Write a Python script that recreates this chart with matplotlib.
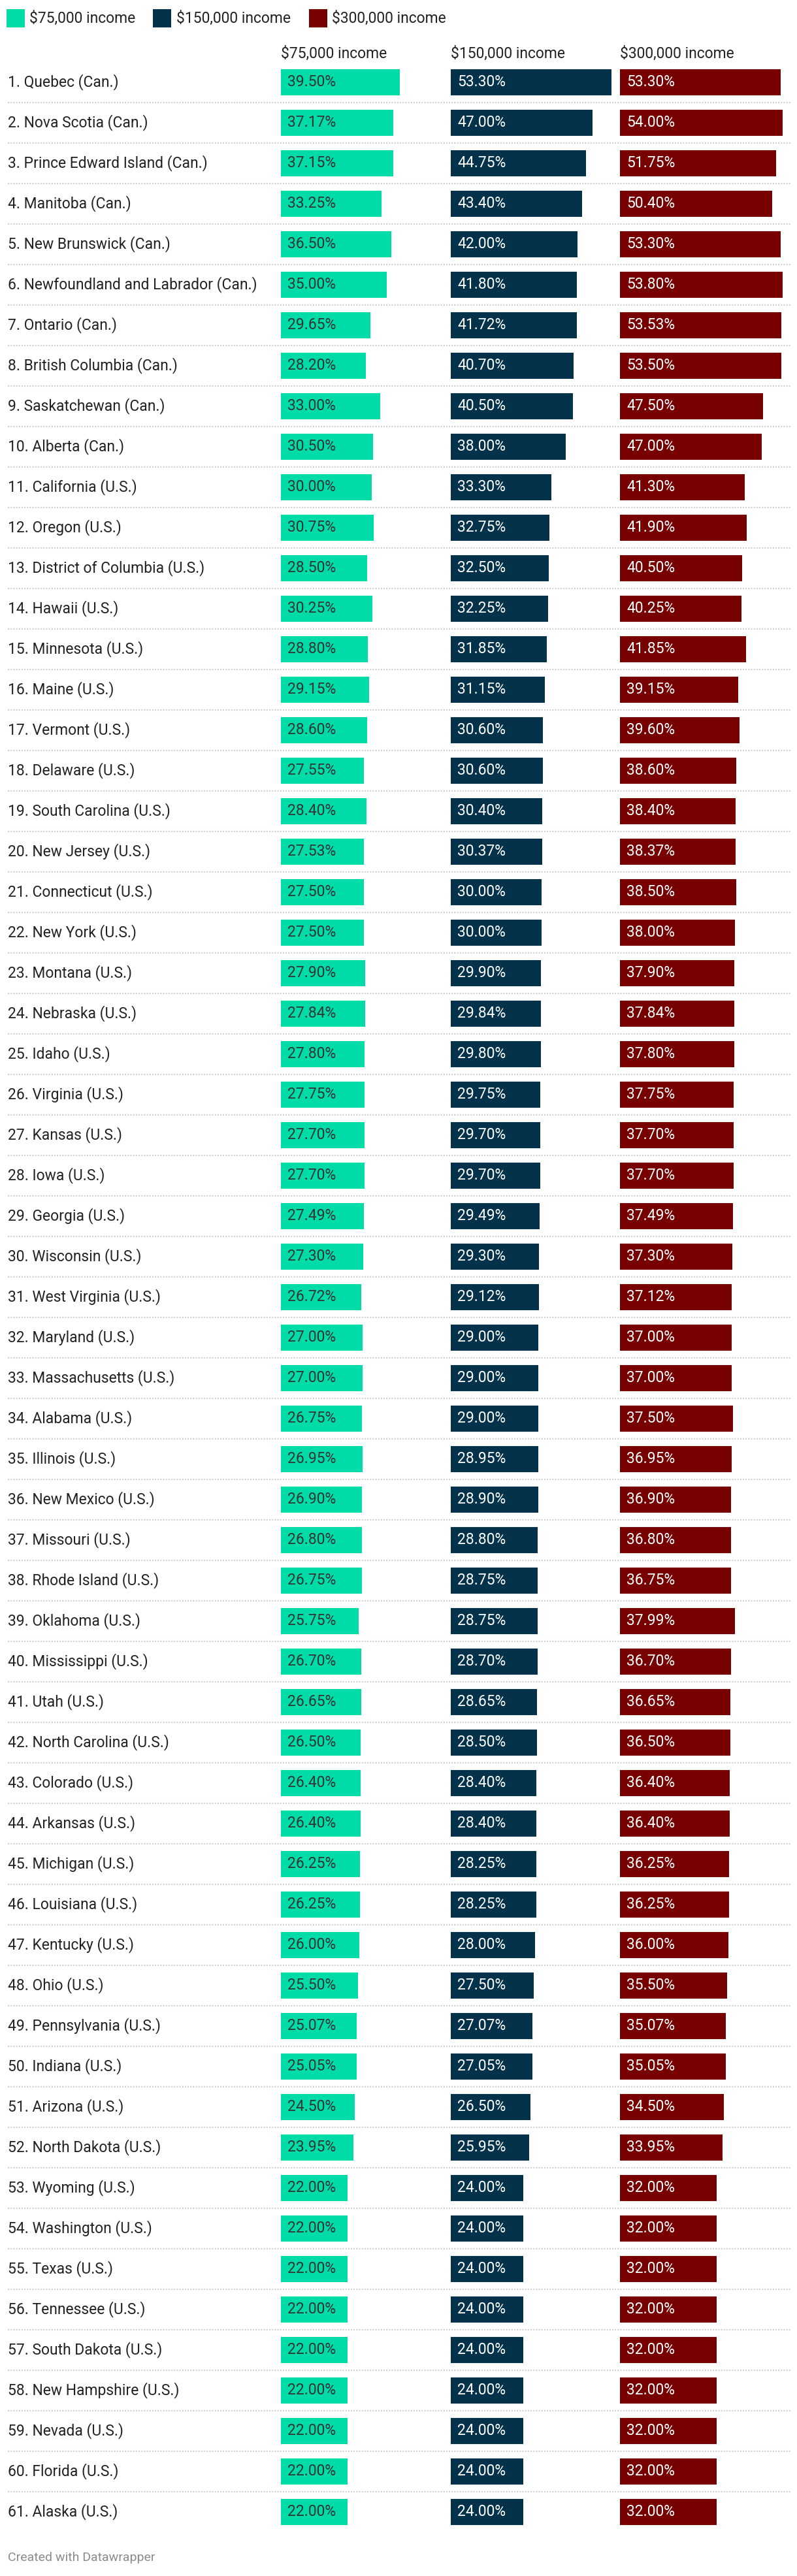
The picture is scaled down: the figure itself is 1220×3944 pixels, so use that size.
import matplotlib
matplotlib.use("Agg")
import matplotlib.pyplot as plt
from matplotlib.patches import Rectangle
from matplotlib.transforms import blended_transform_factory

plt.rcParams["font.family"] = ["Roboto", "DejaVu Sans"]

# ---- data -------------------------------------------------------------
regions = [
    "Quebec (Can.)", "Nova Scotia (Can.)", "Prince Edward Island (Can.)",
    "Manitoba (Can.)", "New Brunswick (Can.)", "Newfoundland and Labrador (Can.)",
    "Ontario (Can.)", "British Columbia (Can.)", "Saskatchewan (Can.)",
    "Alberta (Can.)", "California (U.S.)", "Oregon (U.S.)",
    "District of Columbia (U.S.)", "Hawaii (U.S.)", "Minnesota (U.S.)",
    "Maine (U.S.)", "Vermont (U.S.)", "Delaware (U.S.)", "South Carolina (U.S.)",
    "New Jersey (U.S.)", "Connecticut (U.S.)", "New York (U.S.)", "Montana (U.S.)",
    "Nebraska (U.S.)", "Idaho (U.S.)", "Virginia (U.S.)", "Kansas (U.S.)",
    "Iowa (U.S.)", "Georgia (U.S.)", "Wisconsin (U.S.)", "West Virginia (U.S.)",
    "Maryland (U.S.)", "Massachusetts (U.S.)", "Alabama (U.S.)", "Illinois (U.S.)",
    "New Mexico (U.S.)", "Missouri (U.S.)", "Rhode Island (U.S.)",
    "Oklahoma (U.S.)", "Mississippi (U.S.)", "Utah (U.S.)",
    "North Carolina (U.S.)", "Colorado (U.S.)", "Arkansas (U.S.)",
    "Michigan (U.S.)", "Louisiana (U.S.)", "Kentucky (U.S.)", "Ohio (U.S.)",
    "Pennsylvania (U.S.)", "Indiana (U.S.)", "Arizona (U.S.)",
    "North Dakota (U.S.)", "Wyoming (U.S.)", "Washington (U.S.)", "Texas (U.S.)",
    "Tennessee (U.S.)", "South Dakota (U.S.)", "New Hampshire (U.S.)",
    "Nevada (U.S.)", "Florida (U.S.)", "Alaska (U.S.)",
]

income_75k = [
    39.50, 37.17, 37.15, 33.25, 36.50, 35.00, 29.65, 28.20, 33.00, 30.50,
    30.00, 30.75, 28.50, 30.25, 28.80, 29.15, 28.60, 27.55, 28.40, 27.53,
    27.50, 27.50, 27.90, 27.84, 27.80, 27.75, 27.70, 27.70, 27.49, 27.30,
    26.72, 27.00, 27.00, 26.75, 26.95, 26.90, 26.80, 26.75, 25.75, 26.70,
    26.65, 26.50, 26.40, 26.40, 26.25, 26.25, 26.00, 25.50, 25.07, 25.05,
    24.50, 23.95, 22.00, 22.00, 22.00, 22.00, 22.00, 22.00, 22.00, 22.00,
    22.00,
]
income_150k = [
    53.30, 47.00, 44.75, 43.40, 42.00, 41.80, 41.72, 40.70, 40.50, 38.00,
    33.30, 32.75, 32.50, 32.25, 31.85, 31.15, 30.60, 30.60, 30.40, 30.37,
    30.00, 30.00, 29.90, 29.84, 29.80, 29.75, 29.70, 29.70, 29.49, 29.30,
    29.12, 29.00, 29.00, 29.00, 28.95, 28.90, 28.80, 28.75, 28.75, 28.70,
    28.65, 28.50, 28.40, 28.40, 28.25, 28.25, 28.00, 27.50, 27.07, 27.05,
    26.50, 25.95, 24.00, 24.00, 24.00, 24.00, 24.00, 24.00, 24.00, 24.00,
    24.00,
]
income_300k = [
    53.30, 54.00, 51.75, 50.40, 53.30, 53.80, 53.53, 53.50, 47.50, 47.00,
    41.30, 41.90, 40.50, 40.25, 41.85, 39.15, 39.60, 38.60, 38.40, 38.37,
    38.50, 38.00, 37.90, 37.84, 37.80, 37.75, 37.70, 37.70, 37.49, 37.30,
    37.12, 37.00, 37.00, 37.50, 36.95, 36.90, 36.80, 36.75, 37.99, 36.70,
    36.65, 36.50, 36.40, 36.40, 36.25, 36.25, 36.00, 35.50, 35.07, 35.05,
    34.50, 33.95, 32.00, 32.00, 32.00, 32.00, 32.00, 32.00, 32.00, 32.00,
    32.00,
]
series_names = ["$75,000 income", "$150,000 income", "$300,000 income"]

# ---- style / layout (pixels) -------------------------------------------
W, H = 1220, 3944
GREEN, NAVY, RED = "#00dca8", "#03324a", "#770000"
colors = [GREEN, NAVY, RED]
value_colors = ["#333333", "#ffffff", "#ffffff"]
TEXT = "#222222"
FS = 16.5

col_x = [430, 690, 949]
COL_W = 259
PX_PER_PCT = 4.62
ROW0, PITCH, BAR_H = 126, 62, 40
n = len(regions)
top_px = ROW0 - PITCH / 2
bot_px = ROW0 + PITCH * (n - 1) + PITCH / 2


def fx(px):
    return px / W


def fy(py):
    return 1 - py / H


fig = plt.figure(figsize=(W / 100, H / 100), dpi=100, facecolor="white")

# background axis: row labels and dotted separators
bg = fig.add_axes([0, fy(bot_px), 1, (bot_px - top_px) / H], zorder=0)
bg.set_xlim(0, W)
bg.set_ylim(n - 0.5, -0.5)
bg.axis("off")
rows = list(range(n))
bg.hlines([r + 0.5 for r in rows[:-1]], 12, 1212, colors="#cfcfcf",
          linewidth=1.5, linestyles=(0, (1, 1)))
for r, name in zip(rows, regions):
    bg.text(12, r, f"{r + 1}. {name}", ha="left", va="center",
            fontsize=FS, color=TEXT)

# one axis per income column
for k, vals in enumerate([income_75k, income_150k, income_300k]):
    ax = fig.add_axes([fx(col_x[k]), fy(bot_px), COL_W / W,
                       (bot_px - top_px) / H], zorder=1)
    ax.set_xlim(0, COL_W / PX_PER_PCT)
    ax.set_ylim(n - 0.5, -0.5)
    ax.axis("off")
    ax.barh(rows, vals, height=BAR_H / PITCH, color=colors[k], linewidth=0)
    for r, v in zip(rows, vals):
        ax.annotate(f"{v:.2f}%", xy=(0, r), xytext=(7.2, 0),
                    textcoords="offset points", ha="left", va="center",
                    fontsize=FS, color=value_colors[k])
    fig.text(fx(col_x[k]), fy(82), series_names[k], ha="left", va="center",
             fontsize=FS, color=TEXT)

# legend
legend_x = [(10, 45), (234, 270), (473, 508)]
for (sx, tx), c, name in zip(legend_x, colors, series_names):
    fig.patches.append(Rectangle((fx(sx), fy(42)), 28 / W, 28 / H,
                                 transform=fig.transFigure, facecolor=c,
                                 edgecolor="none"))
    fig.text(fx(tx), fy(28), name, ha="left", va="center", fontsize=FS,
             color=TEXT)

fig.text(fx(12), fy(3916), "Created with Datawrapper", ha="left",
         va="center", fontsize=14, color="#8a8a8a")

fig.savefig("out.png", dpi=100, facecolor="white")
